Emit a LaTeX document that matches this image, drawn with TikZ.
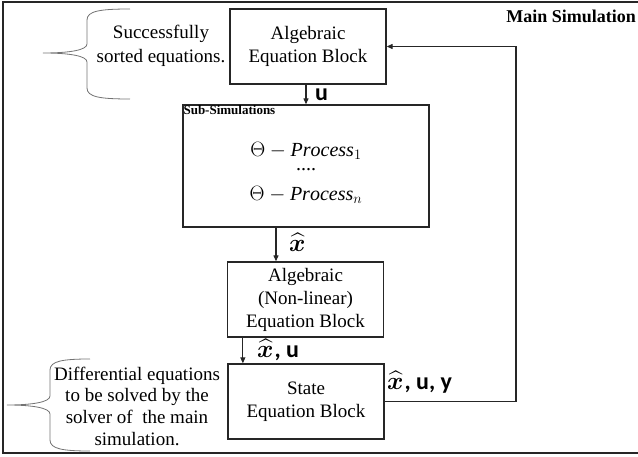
\documentclass[tikz,border=0pt]{standalone}
\usepackage{amsmath,amssymb}
\usepackage{fontspec}
\setmainfont{Liberation Serif}
\newfontfamily\lblfont{Carlito}
\usetikzlibrary{arrows.meta,calc,positioning}
\tikzset{
  blk/.style={draw=black!85,line width=1.3pt,minimum width=156pt,minimum height=75pt,align=center,inner sep=0pt,font=\fontsize{19}{23}\selectfont},
  subblk/.style={draw=black!85,line width=1.3pt,minimum width=246pt,minimum height=122pt,inner sep=0pt},
  edge/.style={-{Triangle[length=6pt,width=5pt]},line width=1.1pt,black!85},
  brace/.style={draw=black!55,line width=0.8pt},
  note/.style={align=center,inner sep=0pt},
  sig/.style={font=\lblfont\bfseries\fontsize{24}{26}\selectfont,inner sep=0pt,anchor=west},
  frame/.style={draw=black!85,line width=1.6pt}
}
\newcommand{\xhat}{$\boldsymbol{\widehat{x}}$\kern1pt}
\begin{document}
\begin{tikzpicture}[x=1pt,y=-1pt]
\useasboundingbox (0,0) rectangle (638,457);
\draw[frame] (638,2) -- (3,2) -- (3,453) -- (638,453);
\node[font=\bfseries\fontsize{18}{20}\selectfont,anchor=east,inner sep=0pt] (mainsim) at (636,16) {Main Simulation};

% blocks
\node[blk] (alg) at (308,46.5) {Algebraic\\Equation Block};
\node[subblk] (sub) at (306,166) {};
\node[font=\bfseries\fontsize{13}{15}\selectfont,anchor=north west,inner sep=1pt] (subttl) at (sub.north west) {Sub-Simulations};
\node[align=center,font=\fontsize{20}{21}\selectfont] (procs) at (306,173) {$\Theta - \mathit{Process}_1$\\[-7pt]....\\[9pt]$\Theta - \mathit{Process}_n$};
\node[blk] (nonlin) at (305.5,299.5) {Algebraic\\(Non-linear)\\Equation Block};
\node[blk] (state) at (306,401.5) {State\\Equation Block};

% notes
\node[note,font=\fontsize{19}{24.5}\selectfont] (note1) at (161,46) {Successfully\\sorted equations.};
\node[note,font=\fontsize{19}{21.7}\selectfont] (note2) at (137,406) {Differential equations\\to be solved by the\\solver of\ \ the main\\simulation.};
\draw[brace] (130,9) .. controls (100,9) and (87,11) .. (87,20) -- (87,44)
  .. controls (87,50) and (70,53) .. (43,53) .. controls (70,53) and (87,56) .. (87,62)
  -- (87,88) .. controls (87,97) and (100,99) .. (130,99);
\draw[brace] (90,359) .. controls (63,359) and (50,361) .. (50,370) -- (50,396)
  .. controls (50,402) and (33,405) .. (7,405) .. controls (33,405) and (50,408) .. (50,414)
  -- (50,440) .. controls (50,449) and (63,451) .. (90,451);

% signals
\draw[edge] (sub.north |- alg.south) -- (sub.north);
\draw[edge] ([xshift=-30pt]sub.south) -- ([xshift=-30pt]sub.south |- nonlin.north);
\draw[edge] ([xshift=16pt]nonlin.south west) -- ([xshift=16pt]nonlin.south west |- state.north);
\coordinate (fb) at (516,46.5);
\draw[edge] (state.east) -| (fb) -- (alg.east);
\node[sig] (lu) at (315,95) {u};
\node[sig] (lxh) at (289,242) {\xhat};
\node[sig] (lxu) at (257,350) {\xhat, u};
\node[sig] (lxuy) at (387,382) {\xhat, u, y};
\end{tikzpicture}
\end{document}
